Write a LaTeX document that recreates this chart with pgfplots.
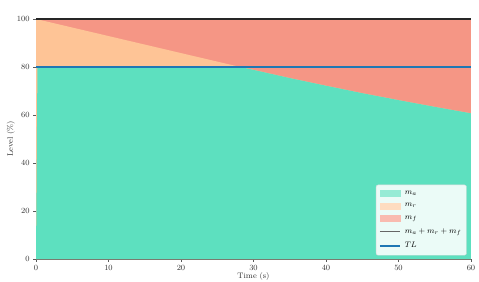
\documentclass[border=0pt]{standalone}
\usepackage{pgfplots}
\pgfplotsset{compat=1.18}
\usepackage{pgfplotstable}
\definecolor{cA}{RGB}{93,224,191}
\definecolor{cR}{RGB}{254,196,150}
\definecolor{cF}{RGB}{245,150,133}
\definecolor{cTL}{RGB}{31,119,180}
\definecolor{spine}{RGB}{90,90,90}
\pgfplotstableread{
t ma mr mf
0 0 100 0
0.2 80 19.86 0.14
5 80 16.45 3.55
10 80 12.9 7.1
15 80 9.35 10.65
20 80 5.8 14.2
25 80 2.25 17.75
28.2 80 0 20
30 78.8 0 21.2
35 75.4 0 24.6
40 72.2 0 27.8
45 69.1 0 30.9
50 66.2 0 33.8
55 63.4 0 36.6
60 60.7 0 39.3
}\data
\pgfplotstableread{
t tot
0 100
60 100
}\total
\pgfplotstableread{
t tl
0 80
60 80
}\tl
\begin{document}
\begin{tikzpicture}
\begin{axis}[
  scale only axis,
  width=435bp, height=240bp,
  xmin=0, xmax=60, ymin=0, ymax=100,
  axis x line*=bottom, axis y line*=left,
  axis line style={spine, line width=0.6pt},
  xtick={0,10,...,60}, ytick={0,20,...,100},
  tick align=outside, tick style={spine, line width=0.5pt},
  major tick length=3pt,
  tick label style={font=\footnotesize, text=black!80},
  label style={font=\footnotesize, text=black!80},
  xlabel={Time (s)}, ylabel={Level (\%)},
  xlabel style={yshift=5pt}, ylabel style={yshift=-5pt},
  clip=true,
  legend style={at={(0.99,0.015)}, anchor=south east, font=\footnotesize,
    fill=white, fill opacity=0.88, text opacity=1, draw=black!15,
    rounded corners=2pt, row sep=3.6pt, inner xsep=3pt, inner ysep=4pt},
  legend cell align=left,
]
\addplot[fill=cF, draw=none, forget plot] table[x=t, y expr=\thisrow{ma}+\thisrow{mr}+\thisrow{mf}] {\data} \closedcycle;
\addplot[fill=cR, draw=none, forget plot] table[x=t, y expr=\thisrow{ma}+\thisrow{mr}] {\data} \closedcycle;
\addplot[fill=cA, draw=none, forget plot] table[x=t, y=ma] {\data} \closedcycle;
\addplot[black!85, line width=1.2pt, forget plot] table[x=t, y=tot] {\total};
\addplot[cTL, line width=1.6pt, forget plot] table[x=t, y=tl] {\tl};
\addlegendimage{legend image code/.code={\fill[cA!65, fill opacity=1, rounded corners=0pt] (0bp,-3bp) rectangle (20bp,3bp); \path[draw=none,fill=none] (0bp,0bp) -- (23bp,0bp);}}
\addlegendentry{$m_a$}
\addlegendimage{legend image code/.code={\fill[cR!60, fill opacity=1, rounded corners=0pt] (0bp,-3bp) rectangle (20bp,3bp); \path[draw=none,fill=none] (0bp,0bp) -- (23bp,0bp);}}
\addlegendentry{$m_r$}
\addlegendimage{legend image code/.code={\fill[cF!65, fill opacity=1, rounded corners=0pt] (0bp,-3bp) rectangle (20bp,3bp); \path[draw=none,fill=none] (0bp,0bp) -- (23bp,0bp);}}
\addlegendentry{$m_f$}
\addlegendimage{legend image code/.code={\draw[black!60, line width=0.9pt] (0bp,0bp) -- (20bp,0bp); \path[draw=none,fill=none] (0bp,0bp) -- (23bp,0bp);}}
\addlegendentry{$m_a+m_r+m_f$}
\addlegendimage{legend image code/.code={\draw[cTL, line width=1.5pt] (0bp,0bp) -- (20bp,0bp); \path[draw=none,fill=none] (0bp,0bp) -- (23bp,0bp);}}
\addlegendentry{$TL$}
\end{axis}
\pgfresetboundingbox
\useasboundingbox (-36bp,-23bp) rectangle (443bp,259bp);
\end{tikzpicture}
\end{document}
